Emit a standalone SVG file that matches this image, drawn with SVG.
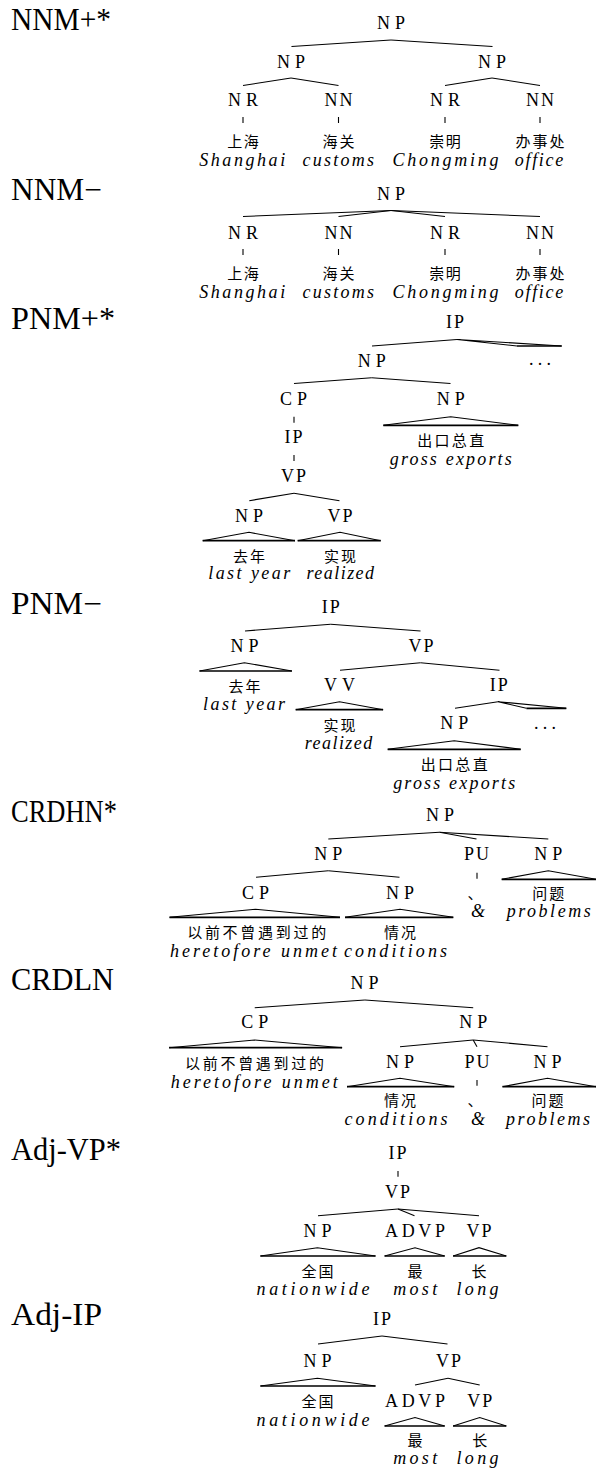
<svg xmlns="http://www.w3.org/2000/svg" width="596" height="1468" viewBox="0 0 596 1468">
<style>
.t{font-family:"Liberation Serif",serif;font-size:31px;fill:#000}
.n{font-family:"Liberation Serif",serif;font-size:18px;text-anchor:middle;fill:#000}
.c{font-family:"Noto Sans CJK SC",sans-serif;font-size:15px;text-anchor:middle;fill:#000}
.e{font-family:"Liberation Serif",serif;font-style:italic;font-size:18px;text-anchor:middle;fill:#000}
.k{stroke:#000;stroke-width:1.1;fill:none}
.b{stroke:#000;stroke-width:1.7;fill:none}
</style>
<rect width="596" height="1468" fill="#fff"/>

<g id="titles">
<text class="t" x="11" y="29.5" textLength="100" lengthAdjust="spacingAndGlyphs">NNM+*</text>
<text class="t" x="11" y="199.5" textLength="91" lengthAdjust="spacingAndGlyphs">NNM−</text>
<text class="t" x="11" y="328.5" textLength="104" lengthAdjust="spacingAndGlyphs">PNM+*</text>
<text class="t" x="11" y="613.5" textLength="91" lengthAdjust="spacingAndGlyphs">PNM−</text>
<text class="t" x="11" y="822" textLength="106" lengthAdjust="spacingAndGlyphs">CRDHN*</text>
<text class="t" x="11" y="989.5" textLength="103" lengthAdjust="spacingAndGlyphs">CRDLN</text>
<text class="t" x="11" y="1159.5" textLength="110" lengthAdjust="spacingAndGlyphs">Adj-VP*</text>
<text class="t" x="11" y="1324.5" textLength="91" lengthAdjust="spacingAndGlyphs">Adj-IP</text>
</g>

<g id="connectors">
<g id="s1-edges">
<line class="k" x1="391" y1="40" x2="291.5" y2="46.5"/>
<line class="k" x1="391" y1="40" x2="492.5" y2="46.5"/>
<line class="k" x1="291" y1="78" x2="243" y2="85.5"/>
<line class="k" x1="291" y1="78" x2="338.5" y2="85.5"/>
<line class="k" x1="492" y1="78" x2="445" y2="85.5"/>
<line class="k" x1="492" y1="78" x2="540" y2="85.5"/>
<line class="k" x1="243" y1="117" x2="243" y2="123"/>
<line class="k" x1="338.5" y1="117" x2="338.5" y2="123"/>
<line class="k" x1="445" y1="117" x2="445" y2="123"/>
<line class="k" x1="540" y1="117" x2="540" y2="123"/>
</g>
<g id="s2-edges">
<line class="k" x1="391" y1="210.5" x2="243" y2="216.5"/>
<line class="k" x1="391" y1="210.5" x2="338.5" y2="216.5"/>
<line class="k" x1="391" y1="210.5" x2="445" y2="216.5"/>
<line class="k" x1="391" y1="210.5" x2="540" y2="216.5"/>
<line class="k" x1="243" y1="249" x2="243" y2="255"/>
<line class="k" x1="338.5" y1="249" x2="338.5" y2="255"/>
<line class="k" x1="445" y1="249" x2="445" y2="255"/>
<line class="k" x1="540" y1="249" x2="540" y2="255"/>
</g>
<g id="s3-edges">
<line class="k" x1="457" y1="339.5" x2="372" y2="346"/>
<path class="k" d="M517 346 L457 339.5 L561.7 346"/>
<line class="b" x1="517" y1="346" x2="561.7" y2="346"/>
<line class="k" x1="371.7" y1="377.7" x2="294" y2="383.5"/>
<line class="k" x1="371.7" y1="377.7" x2="450.5" y2="383.5"/>
<path class="k" d="M383.3 425.3 L450.7 416.7 L518.3 425.3"/>
<line class="b" x1="383.3" y1="425.3" x2="518.3" y2="425.3"/>
<line class="k" x1="294" y1="416.7" x2="294" y2="422.7"/>
<line class="k" x1="294" y1="455" x2="294" y2="461"/>
<line class="k" x1="294" y1="493.3" x2="249.3" y2="500.7"/>
<line class="k" x1="294" y1="493.3" x2="339.5" y2="500.7"/>
<path class="k" d="M202.7 540.7 L249 532.3 L295 540.7"/>
<line class="b" x1="202.7" y1="540.7" x2="295" y2="540.7"/>
<path class="k" d="M297.7 540.7 L340 532.3 L380.7 540.7"/>
<line class="b" x1="297.7" y1="540.7" x2="380.7" y2="540.7"/>
</g>
<g id="s4-edges">
<line class="k" x1="330.7" y1="624.3" x2="245" y2="631"/>
<line class="k" x1="330.7" y1="624.3" x2="420.5" y2="631"/>
<path class="k" d="M199.5 671 L244.4 662.7 L291.9 671"/>
<line class="b" x1="199.5" y1="671" x2="291.9" y2="671"/>
<line class="k" x1="420.5" y1="662.7" x2="340" y2="670.3"/>
<line class="k" x1="420.5" y1="662.7" x2="499.5" y2="670.3"/>
<path class="k" d="M295.7 709.7 L339.5 701.7 L383.1 709.7"/>
<line class="b" x1="295.7" y1="709.7" x2="383.1" y2="709.7"/>
<line class="k" x1="498" y1="701.7" x2="455" y2="708.3"/>
<path class="k" d="M526.4 708.3 L498 701.7 L566.3 708.3"/>
<line class="b" x1="526.4" y1="708.3" x2="566.3" y2="708.3"/>
<path class="k" d="M387.7 749.3 L454.2 740.7 L520.7 749.3"/>
<line class="b" x1="387.7" y1="749.3" x2="520.7" y2="749.3"/>
</g>
<g id="s5-edges">
<line class="k" x1="439.5" y1="832.3" x2="328.3" y2="839"/>
<line class="k" x1="439.5" y1="832.3" x2="476.5" y2="839"/>
<line class="k" x1="439.5" y1="832.3" x2="548.3" y2="839"/>
<line class="k" x1="328.3" y1="870.7" x2="256" y2="877.3"/>
<line class="k" x1="328.3" y1="870.7" x2="399.5" y2="877.3"/>
<line class="k" x1="477" y1="872.7" x2="477" y2="878.7"/>
<path class="k" d="M501.7 879.3 L548.3 870.7 L596 879.3"/>
<line class="b" x1="501.7" y1="879.3" x2="596" y2="879.3"/>
<path class="k" d="M169.5 917.3 L255.5 909.3 L340 917.3"/>
<line class="b" x1="169.5" y1="917.3" x2="340" y2="917.3"/>
<path class="k" d="M345 917.3 L400 909.3 L453.3 917.3"/>
<line class="b" x1="345" y1="917.3" x2="453.3" y2="917.3"/>
</g>
<g id="s6-edges">
<line class="k" x1="364.9" y1="1000" x2="254.7" y2="1007.7"/>
<line class="k" x1="364.9" y1="1000" x2="473.2" y2="1007.7"/>
<path class="k" d="M169.1 1047.7 L254.7 1040 L342.1 1047.7"/>
<line class="b" x1="169.1" y1="1047.7" x2="342.1" y2="1047.7"/>
<line class="k" x1="473.2" y1="1040" x2="400" y2="1046.7"/>
<line class="k" x1="473.2" y1="1040" x2="477" y2="1046.7"/>
<line class="k" x1="473.2" y1="1040" x2="547.5" y2="1046.7"/>
<path class="k" d="M347 1086.7 L400 1078.3 L454.2 1086.7"/>
<line class="b" x1="347" y1="1086.7" x2="454.2" y2="1086.7"/>
<line class="k" x1="477" y1="1080" x2="477" y2="1085.7"/>
<path class="k" d="M502.5 1086.7 L547.5 1078.3 L596 1086.7"/>
<line class="b" x1="502.5" y1="1086.7" x2="596" y2="1086.7"/>
</g>
<g id="s7-edges">
<line class="k" x1="398" y1="1171" x2="398" y2="1176.7"/>
<line class="k" x1="398" y1="1209" x2="318" y2="1215.7"/>
<line class="k" x1="398" y1="1209" x2="414.5" y2="1215.7"/>
<line class="k" x1="398" y1="1209" x2="479" y2="1215.7"/>
<path class="k" d="M260.4 1256 L317.4 1247.7 L375.5 1256"/>
<line class="b" x1="260.4" y1="1256" x2="375.5" y2="1256"/>
<path class="k" d="M384.6 1256 L415 1247.7 L444.7 1256"/>
<line class="b" x1="384.6" y1="1256" x2="444.7" y2="1256"/>
<path class="k" d="M453.1 1256 L479 1247.7 L506.3 1256"/>
<line class="b" x1="453.1" y1="1256" x2="506.3" y2="1256"/>
</g>
<g id="s8-edges">
<line class="k" x1="382" y1="1336" x2="318" y2="1344"/>
<line class="k" x1="382" y1="1336" x2="447.5" y2="1344"/>
<path class="k" d="M260.4 1386 L317.4 1378.3 L375.5 1386"/>
<line class="b" x1="260.4" y1="1386" x2="375.5" y2="1386"/>
<line class="k" x1="448" y1="1378.3" x2="415" y2="1385"/>
<line class="k" x1="448" y1="1378.3" x2="479.7" y2="1385"/>
<path class="k" d="M384.6 1426 L415 1417.5 L444.7 1426"/>
<line class="b" x1="384.6" y1="1426" x2="444.7" y2="1426"/>
<path class="k" d="M453.1 1426 L479.7 1417.5 L506.3 1426"/>
<line class="b" x1="453.1" y1="1426" x2="506.3" y2="1426"/>
</g>
</g>

<!-- Section 1: NNM+* -->
<g id="s1-np0"><text class="n" x="391" y="28.5" textLength="28">NP</text></g>
<g id="s1-np1"><text class="n" x="291" y="67.5" textLength="28">NP</text></g>
<g id="s1-np2"><text class="n" x="492" y="67.5" textLength="28">NP</text></g>
<g id="s1-nr1"><text class="n" x="243" y="106" textLength="30">NR</text></g>
<g id="s1-nn1"><text class="n" x="338.5" y="106" textLength="28">NN</text></g>
<g id="s1-nr2"><text class="n" x="445" y="106" textLength="30">NR</text></g>
<g id="s1-nn2"><text class="n" x="540" y="106" textLength="28">NN</text></g>
<g id="s1-w1"><text class="c" x="243" y="146.7" textLength="31.5">上海</text><text class="e" x="242.2" y="165.7" textLength="86">Shanghai</text></g>
<g id="s1-w2"><text class="c" x="338.5" y="146.7" textLength="32">海关</text><text class="e" x="338.3" y="165.7" textLength="71.5">customs</text></g>
<g id="s1-w3"><text class="c" x="445" y="146.7" textLength="31.5">崇明</text><text class="e" x="445.5" y="165.7" textLength="106">Chongming</text></g>
<g id="s1-w4"><text class="c" x="540" y="146.7" textLength="49">办事处</text><text class="e" x="539" y="165.7" textLength="48.5">office</text></g>

<!-- Section 2: NNM- -->
<g id="s2-np0"><text class="n" x="391" y="199.5" textLength="28">NP</text></g>
<g id="s2-nr1"><text class="n" x="243" y="238.5" textLength="30">NR</text></g>
<g id="s2-nn1"><text class="n" x="338.5" y="238.5" textLength="28">NN</text></g>
<g id="s2-nr2"><text class="n" x="445" y="238.5" textLength="30">NR</text></g>
<g id="s2-nn2"><text class="n" x="540" y="238.5" textLength="28">NN</text></g>
<g id="s2-w1"><text class="c" x="243" y="279" textLength="31.5">上海</text><text class="e" x="242.2" y="297.5" textLength="86">Shanghai</text></g>
<g id="s2-w2"><text class="c" x="338.5" y="279" textLength="32">海关</text><text class="e" x="338.3" y="297.5" textLength="71.5">customs</text></g>
<g id="s2-w3"><text class="c" x="445" y="279" textLength="31.5">崇明</text><text class="e" x="445.5" y="297.5" textLength="106">Chongming</text></g>
<g id="s2-w4"><text class="c" x="540" y="279" textLength="49">办事处</text><text class="e" x="539" y="297.5" textLength="48.5">office</text></g>

<!-- Section 3: PNM+* -->
<g id="s3-ip0"><text class="n" x="455" y="328.3" textLength="18">IP</text></g>
<g id="s3-np1"><text class="n" x="371.7" y="366.7" textLength="28">NP</text></g>
<g id="s3-dots"><text class="n" x="540" y="365" textLength="22">...</text></g>
<g id="s3-cp"><text class="n" x="293.5" y="405" textLength="27">CP</text></g>
<g id="s3-np2"><text class="n" x="450.7" y="405" textLength="28">NP</text><text class="c" x="450.7" y="445.7" textLength="67">出口总直</text><text class="e" x="450.8" y="465" textLength="122">gross exports</text></g>
<g id="s3-ip1"><text class="n" x="293.5" y="443.3" textLength="18">IP</text></g>
<g id="s3-vp0"><text class="n" x="293.5" y="481.7" textLength="25">VP</text></g>
<g id="s3-np3"><text class="n" x="249" y="521.7" textLength="28">NP</text><text class="c" x="249" y="561.7" textLength="32">去年</text><text class="e" x="249.2" y="579.3" textLength="82">last year</text></g>
<g id="s3-vp1"><text class="n" x="340" y="521.7" textLength="25">VP</text><text class="c" x="340" y="561.7" textLength="32">实现</text><text class="e" x="340.3" y="579.3" textLength="67.5">realized</text></g>

<!-- Section 4: PNM- -->
<g id="s4-ip0"><text class="n" x="330.7" y="613.3" textLength="18">IP</text></g>
<g id="s4-np1"><text class="n" x="244.4" y="651.7" textLength="28">NP</text><text class="c" x="244.4" y="692" textLength="32">去年</text><text class="e" x="244" y="710.3" textLength="82">last year</text></g>
<g id="s4-vp0"><text class="n" x="421" y="651.7" textLength="25">VP</text></g>
<g id="s4-vv"><text class="n" x="339.5" y="690.7" textLength="31">VV</text><text class="c" x="339.5" y="730.5" textLength="32">实现</text><text class="e" x="338.5" y="748.5" textLength="67.5">realized</text></g>
<g id="s4-ip1"><text class="n" x="498.7" y="690.7" textLength="18">IP</text></g>
<g id="s4-np2"><text class="n" x="454.2" y="729.3" textLength="28">NP</text><text class="c" x="454.2" y="770" textLength="67">出口总直</text><text class="e" x="454.2" y="788.5" textLength="122">gross exports</text></g>
<g id="s4-dots"><text class="n" x="545" y="729.3" textLength="22">...</text></g>

<!-- Section 5: CRDHN* -->
<g id="s5-np0"><text class="n" x="440" y="820.7" textLength="28">NP</text></g>
<g id="s5-np1"><text class="n" x="328.3" y="860" textLength="28">NP</text></g>
<g id="s5-pu"><text class="n" x="476.5" y="860" textLength="25">PU</text><text class="c" x="475" y="899.3">、</text><text class="e" x="478" y="917.3">&amp;</text></g>
<g id="s5-np2"><text class="n" x="548.3" y="860" textLength="28">NP</text><text class="c" x="548.3" y="899.3" textLength="32">问题</text><text class="e" x="548.7" y="917.3" textLength="84">problems</text></g>
<g id="s5-cp"><text class="n" x="255.5" y="899" textLength="27">CP</text><text class="c" x="256.7" y="937.7" textLength="139">以前不曾遇到过的</text><text class="e" x="253.5" y="956.7" textLength="167">heretofore unmet</text></g>
<g id="s5-np3"><text class="n" x="400" y="899" textLength="28">NP</text><text class="c" x="400" y="937.7" textLength="32">情况</text><text class="e" x="395.5" y="956.7" textLength="103">conditions</text></g>

<!-- Section 6: CRDLN -->
<g id="s6-np0"><text class="n" x="364.5" y="989" textLength="28">NP</text></g>
<g id="s6-cp"><text class="n" x="254.7" y="1028.3" textLength="27">CP</text><text class="c" x="254.5" y="1069" textLength="139">以前不曾遇到过的</text><text class="e" x="254.3" y="1087.7" textLength="167">heretofore unmet</text></g>
<g id="s6-np1"><text class="n" x="473.2" y="1028.3" textLength="28">NP</text></g>
<g id="s6-np2"><text class="n" x="400" y="1068.3" textLength="28">NP</text><text class="c" x="400" y="1106" textLength="32">情况</text><text class="e" x="396" y="1125" textLength="103">conditions</text></g>
<g id="s6-pu"><text class="n" x="477" y="1068.3" textLength="25">PU</text><text class="c" x="475" y="1106">、</text><text class="e" x="478" y="1125">&amp;</text></g>
<g id="s6-np3"><text class="n" x="547.5" y="1068.3" textLength="28">NP</text><text class="c" x="547.5" y="1106" textLength="32">问题</text><text class="e" x="548" y="1125" textLength="84">problems</text></g>

<!-- Section 7: Adj-VP* -->
<g id="s7-ip"><text class="n" x="397.5" y="1159" textLength="18">IP</text></g>
<g id="s7-vp0"><text class="n" x="397.5" y="1198.3" textLength="25">VP</text></g>
<g id="s7-np"><text class="n" x="317.4" y="1236.7" textLength="28">NP</text><text class="c" x="317.4" y="1276.7" textLength="32">全国</text><text class="e" x="313" y="1295" textLength="113">nationwide</text></g>
<g id="s7-advp"><text class="n" x="415" y="1236.7" textLength="60">ADVP</text><text class="c" x="415" y="1276.7">最</text><text class="e" x="415.2" y="1295" textLength="44">most</text></g>
<g id="s7-vp1"><text class="n" x="479" y="1236.7" textLength="25">VP</text><text class="c" x="479" y="1276.7">长</text><text class="e" x="477.5" y="1295" textLength="42">long</text></g>

<!-- Section 8: Adj-IP -->
<g id="s8-ip"><text class="n" x="382" y="1324.5" textLength="18">IP</text></g>
<g id="s8-np"><text class="n" x="317.4" y="1366.7" textLength="28">NP</text><text class="c" x="317.4" y="1407.3" textLength="32">全国</text><text class="e" x="313" y="1425.5" textLength="113">nationwide</text></g>
<g id="s8-vp0"><text class="n" x="448.5" y="1366.7" textLength="25">VP</text></g>
<g id="s8-advp"><text class="n" x="415" y="1407.3" textLength="60">ADVP</text><text class="c" x="415" y="1445.5">最</text><text class="e" x="415.2" y="1463.5" textLength="44">most</text></g>
<g id="s8-vp1"><text class="n" x="479.7" y="1407.3" textLength="25">VP</text><text class="c" x="479.7" y="1445.5">长</text><text class="e" x="477.5" y="1463.5" textLength="42">long</text></g>
</svg>
